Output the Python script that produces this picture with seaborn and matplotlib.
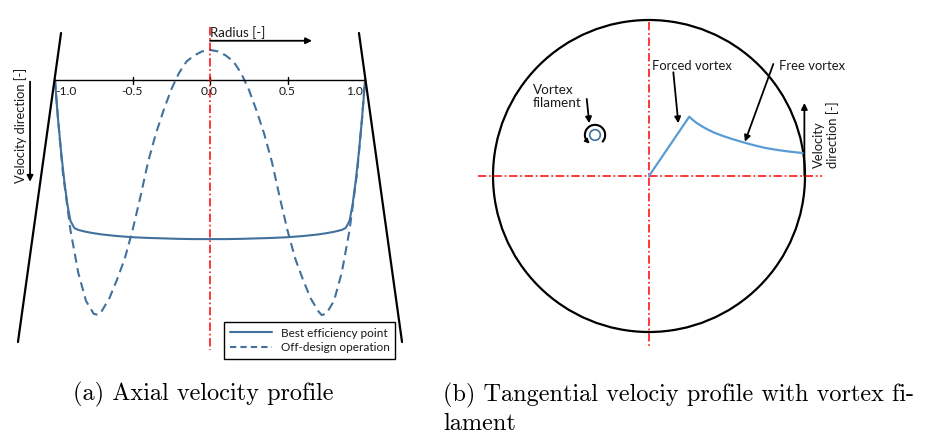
import numpy as np
import pandas as pd
import matplotlib
matplotlib.use("Agg")
import matplotlib.pyplot as plt
from matplotlib.lines import Line2D
from matplotlib.patches import Circle, Arc
import seaborn as sns

sns.set_theme(style="white")
plt.rcParams['font.family'] = ['Lato', 'DejaVu Sans']
plt.rcParams['lines.scale_dashes'] = False

# ---------------- data: (a) axial velocity profile ----------------
# radius [-] and velocity (downwards positive, arbitrary units)
radius_bep = [-1.0, -0.99, -0.98, -0.96, -0.94, -0.92, -0.90, -0.875, -0.85, -0.80, -0.75,
              -0.70, -0.60, -0.50, -0.40, -0.30, -0.20, -0.10, 0.0,
              0.10, 0.20, 0.30, 0.40, 0.50, 0.60, 0.70, 0.75, 0.80, 0.85, 0.875,
              0.90, 0.92, 0.94, 0.96, 0.98, 0.99, 1.0]
vel_bep = [0.0, 0.09, 0.17, 0.31, 0.43, 0.53, 0.60, 0.630, 0.638, 0.646, 0.652,
           0.657, 0.664, 0.669, 0.672, 0.674, 0.676, 0.677, 0.677,
           0.677, 0.676, 0.674, 0.672, 0.669, 0.664, 0.657, 0.652, 0.646, 0.638, 0.630,
           0.60, 0.53, 0.43, 0.31, 0.17, 0.09, 0.0]

radius_off = [-1.0, -0.98, -0.95, -0.90, -0.85, -0.80, -0.75, -0.72, -0.70, -0.65, -0.60,
              -0.55, -0.50, -0.45, -0.40, -0.35, -0.30, -0.25, -0.20, -0.15, -0.10, -0.05, 0.0,
              0.05, 0.10, 0.15, 0.20, 0.25, 0.30, 0.35, 0.40, 0.45, 0.50, 0.55,
              0.60, 0.65, 0.70, 0.72, 0.75, 0.80, 0.85, 0.90, 0.95, 0.98, 1.0]
vel_off = [0.0, 0.17, 0.39, 0.64, 0.82, 0.94, 0.995, 1.0, 0.985, 0.93, 0.85,
           0.76, 0.64, 0.50, 0.35, 0.23, 0.13, 0.04, -0.03, -0.08, -0.105, -0.122, -0.128,
           -0.122, -0.105, -0.08, -0.03, 0.04, 0.13, 0.23, 0.35, 0.50, 0.64, 0.76,
           0.85, 0.93, 0.985, 1.0, 0.995, 0.94, 0.82, 0.64, 0.39, 0.17, 0.0]

tick_values = [-1.0, -0.5, 0.0, 0.5, 1.0]
tick_labels = ["-1.0", "-0.5", "0.0", "0.5", "1.0"]
series_labels = ["Best efficiency point", "Off-design operation"]

# ---------------- data: (b) tangential velocity profile ----------------
r_tang = [0.0, 0.258, 0.28, 0.30, 0.33, 0.37, 0.42, 0.476, 0.53, 0.583, 0.64, 0.69,
          0.74, 0.797, 0.85, 0.904, 0.95, 0.99]
v_tang = [0.0, 0.380, 0.360, 0.344, 0.324, 0.301, 0.277, 0.256, 0.238, 0.222, 0.206,
          0.193, 0.181, 0.171, 0.163, 0.156, 0.151, 0.147]

BLUE_A = "#41719C"
BLUE_B = "#5B9BD5"
RED = "#FF0000"
dashdot = (0, (6.0, 2.0, 1.2, 2.0))
TXT = "#1a1a1a"

fig = plt.figure(figsize=(9.25, 4.36), dpi=100)
W, H = 925.0, 436.0

# ================= panel (a) =================
axa = fig.add_axes([0, 66 / H, 420 / W, 370 / H])
axa.set_xlim(-210 / 155, 210 / 155)
axa.set_ylim(290 / 235, -80 / 235)
axa.axis("off")

df_bep = pd.DataFrame({"r": radius_bep, "v": vel_bep})
df_off = pd.DataFrame({"r": radius_off, "v": vel_off})
sns.lineplot(data=df_bep, x="r", y="v", ax=axa, sort=False, estimator=None,
             color=BLUE_A, lw=1.5, legend=False)
sns.lineplot(data=df_off, x="r", y="v", ax=axa, sort=False, estimator=None,
             color=BLUE_A, lw=1.5, linestyle=(0, (6.5, 4.0)), legend=False)

# axis line and ticks
axa.plot([-1.0, 1.0], [0, 0], color="black", lw=1.0)
for tv, tl in zip(tick_values, tick_labels):
    if abs(tv) < 1.0:
        axa.plot([tv, tv], [-0.013, 0.017], color="black", lw=1.0)
    dx = 0.07 if tv == -1.0 else (-0.07 if tv == 1.0 else -0.005)
    axa.text(tv + dx, 0.05, tl, ha="center", va="center", fontsize=8.7, color=TXT)

# pipe walls
axa.plot([-0.961, -1.239], [-0.2, 1.115], color="black", lw=1.6)
axa.plot([0.961, 1.239], [-0.2, 1.115], color="black", lw=1.6)

# centre line
axa.plot([0, 0], [-0.2255, 1.149], color=RED, lw=1.1, linestyle=dashdot)

# radius label + arrow
axa.text(0.0, -0.2035, "Radius [-]", ha="left", va="center", fontsize=9.5, color=TXT)
axa.annotate("", xy=(0.658, -0.167), xytext=(0.0, -0.167),
             arrowprops=dict(arrowstyle="-|>", color="black", lw=1.3,
                             mutation_scale=9, shrinkA=0, shrinkB=0))

# velocity direction label + arrow
axa.text(-1.2194, 0.1915, "Velocity direction [-]", rotation=90, ha="center", va="center",
         fontsize=9.3, color=TXT)
axa.annotate("", xy=(-1.161, 0.433), xytext=(-1.161, 0.007),
             arrowprops=dict(arrowstyle="-|>", color="black", lw=1.3,
                             mutation_scale=9, shrinkA=0, shrinkB=0))

handles = [Line2D([], [], color=BLUE_A, lw=1.5),
           Line2D([], [], color=BLUE_A, lw=1.5, linestyle=(0, (4.5, 3.0)))]
leg = axa.legend(handles, series_labels, loc="upper left",
                 bbox_to_anchor=(224 / W, 1 - 321.7 / H), bbox_transform=fig.transFigure,
                 frameon=True, fancybox=False, edgecolor="black", framealpha=1,
                 fontsize=8.5, borderpad=0.5, handlelength=3.6, handletextpad=0.7,
                 labelspacing=0.3, borderaxespad=0)
leg.get_frame().set_linewidth(1.0)
for t in leg.get_texts():
    t.set_color(TXT)

# ================= panel (b) =================
axb = fig.add_axes([420 / W, 66 / H, 505 / W, 370 / H])
axb.set_xlim((420 - 649) / 156, (925 - 649) / 156)
axb.set_ylim((176 - 370) / 156, 176 / 156)
axb.axis("off")

axb.add_patch(Circle((0, 0), 1.0, fill=False, ec="black", lw=1.6))
axb.plot([-1.096, 1.107], [0, 0], color=RED, lw=1.1, linestyle=dashdot)
axb.plot([0, 0], [0.99, -1.09], color=RED, lw=1.1, linestyle=dashdot)

df_tang = pd.DataFrame({"r": r_tang, "v": v_tang})
sns.lineplot(data=df_tang, x="r", y="v", ax=axb, sort=False, estimator=None,
             color=BLUE_B, lw=1.6, legend=False)

arrow_kw = dict(arrowstyle="-|>", color="black", lw=1.3, mutation_scale=9,
                shrinkA=0, shrinkB=0)
axb.text(-0.7455, 0.59, "Vortex\nfilament", ha="left", va="top", fontsize=9.7,
         linespacing=1.1, color=TXT)
axb.annotate("", xy=(-0.383, 0.338), xytext=(-0.399, 0.494), arrowprops=arrow_kw)
axb.text(0.0173, 0.708, "Forced vortex", ha="left", va="center", fontsize=9.4, color=TXT)
axb.annotate("", xy=(0.188, 0.338), xytext=(0.156, 0.665), arrowprops=arrow_kw)
axb.text(0.833, 0.708, "Free vortex", ha="left", va="center", fontsize=9.4, color=TXT)
axb.annotate("", xy=(0.615, 0.220), xytext=(0.797, 0.718), arrowprops=arrow_kw)

# vortex filament symbol
cx, cy = -0.346, 0.263
axb.add_patch(Circle((cx, cy), 0.034, fill=False, ec=BLUE_A, lw=1.2))
axb.add_patch(Arc((cx, cy), 0.13, 0.13, theta1=-45, theta2=215, ec="black", lw=1.5))
a1, a2 = np.deg2rad(212), np.deg2rad(238)
axb.annotate("", xy=(cx + 0.065 * np.cos(a2), cy + 0.065 * np.sin(a2)),
             xytext=(cx + 0.065 * np.cos(a1), cy + 0.065 * np.sin(a1)),
             arrowprops=dict(arrowstyle="-|>", color="black", lw=1.0,
                             mutation_scale=7, shrinkA=0, shrinkB=0))

# velocity direction (tangential)
axb.annotate("", xy=(0.996, 0.468), xytext=(0.996, 0.0), arrowprops=arrow_kw)
axb.text(1.135, 0.05, "Velocity\ndirection [-]", rotation=90, ha="center", va="bottom",
         multialignment="left", fontsize=9.4, linespacing=1.15, color=TXT)

# captions
cap_font = dict(family="cmr10", size=17.5, color="black")
fig.text(73 / W, 1 - 394 / H, "(a) Axial velocity profile", ha="left", va="center", **cap_font)
fig.text(443 / W, 1 - 395 / H, "(b) Tangential velociy profile with vortex fi-",
         ha="left", va="center", **cap_font)
fig.text(443 / W, 1 - 424 / H, "lament", ha="left", va="center", **cap_font)

fig.savefig("out.png", dpi=100)
